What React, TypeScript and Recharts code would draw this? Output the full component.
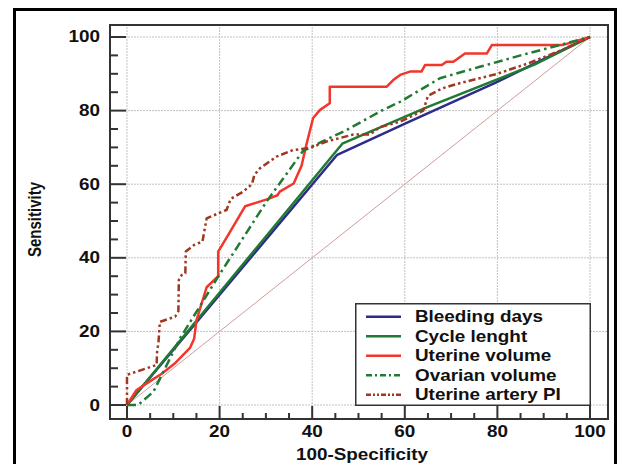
import React from 'react';
import { LineChart, Line, XAxis, YAxis, ReferenceLine, Legend } from 'recharts';

// ---------- data ----------
const bleedingDays = [
  { x: 0, y: 0 }, { x: 2, y: 3 }, { x: 45.4, y: 68 }, { x: 61, y: 77 },
  { x: 80, y: 87.8 }, { x: 89.2, y: 93.5 }, { x: 100, y: 100 },
];
const cycleLength = [
  { x: 0, y: 0 }, { x: 46.5, y: 71 }, { x: 65, y: 81 }, { x: 88, y: 92.5 }, { x: 100, y: 100 },
];
const uterineVolume = [
  { x: 0, y: 0 }, { x: 2, y: 4 }, { x: 5, y: 6.5 }, { x: 7.5, y: 8.5 }, { x: 10.5, y: 11.5 },
  { x: 13.6, y: 15.5 }, { x: 14.5, y: 18 }, { x: 15, y: 23 }, { x: 17.2, y: 32 }, { x: 19.7, y: 35 },
  { x: 19.7, y: 41.7 }, { x: 22, y: 46.5 }, { x: 25.5, y: 54 }, { x: 30.5, y: 56 }, { x: 32.5, y: 57 },
  { x: 33, y: 58 }, { x: 36, y: 60.2 }, { x: 37.7, y: 65 }, { x: 38.8, y: 71 }, { x: 40.2, y: 78 },
  { x: 41.7, y: 80.2 }, { x: 43.8, y: 82 }, { x: 43.8, y: 86.5 }, { x: 56.1, y: 86.5 }, { x: 57.5, y: 88.3 },
  { x: 59, y: 89.7 }, { x: 61.1, y: 90.6 }, { x: 63.6, y: 90.6 }, { x: 64.4, y: 92.4 }, { x: 68, y: 92.4 },
  { x: 69, y: 93.3 }, { x: 70.5, y: 93.3 }, { x: 73, y: 95.5 }, { x: 77.7, y: 95.5 }, { x: 78.8, y: 97.8 },
  { x: 94, y: 97.8 }, { x: 100, y: 100 },
];
const ovarianVolume = [
  { x: 0, y: 0 }, { x: 2.4, y: 0 }, { x: 5.7, y: 3.6 }, { x: 11.4, y: 18 }, { x: 20, y: 35.5 },
  { x: 30, y: 55 }, { x: 38, y: 69 }, { x: 42, y: 71.5 }, { x: 47.4, y: 74.7 }, { x: 55, y: 80 },
  { x: 59, y: 82.4 }, { x: 67.6, y: 88.8 }, { x: 76.2, y: 91.9 }, { x: 85, y: 95 }, { x: 100, y: 100 },
];
const uterineArteryPI = [
  { x: 0, y: 0 }, { x: 0, y: 8.2 }, { x: 6.4, y: 10.9 }, { x: 6.5, y: 14.5 }, { x: 6.8, y: 17 },
  { x: 7.1, y: 22.6 }, { x: 10.4, y: 24 }, { x: 11.1, y: 25.5 }, { x: 11.2, y: 34 }, { x: 11.8, y: 35.3 },
  { x: 12.6, y: 35.8 }, { x: 12.7, y: 41.7 }, { x: 14.5, y: 43.5 }, { x: 16.3, y: 44.4 }, { x: 17.2, y: 50.7 },
  { x: 20.5, y: 52.5 }, { x: 21.5, y: 53 }, { x: 22.4, y: 56 }, { x: 25.1, y: 58 }, { x: 27, y: 60 },
  { x: 27.5, y: 62.5 }, { x: 28.7, y: 64.3 }, { x: 32.3, y: 67.5 }, { x: 35.9, y: 69.3 }, { x: 39.5, y: 69.8 },
  { x: 43.1, y: 71.6 }, { x: 48.9, y: 73.5 }, { x: 52.5, y: 73.5 }, { x: 54.6, y: 75.5 }, { x: 59, y: 77 },
  { x: 64, y: 80 }, { x: 65, y: 84 }, { x: 68, y: 86 }, { x: 72, y: 87.5 }, { x: 80, y: 90 },
  { x: 87, y: 93 }, { x: 94, y: 96.5 }, { x: 100, y: 100 },
];
const diagonal = [{ x: 0, y: 0 }, { x: 100, y: 100 }];

const seriesNames = ['Bleeding days', 'Cycle lenght', 'Uterine volume', 'Ovarian volume', 'Uterine artery PI'];
const xTicks = [0, 5, 10, 15, 20, 25, 30, 35, 40, 45, 50, 55, 60, 65, 70, 75, 80, 85, 90, 95, 100];
const yTicks = [0, 5, 10, 15, 20, 25, 30, 35, 40, 45, 50, 55, 60, 65, 70, 75, 80, 85, 90, 95, 100];
const gridValues = [0, 20, 40, 60, 80, 100];
const xTitle = '100-Specificity';
const yTitle = 'Sensitivity';

// ---------- style ----------
const X_DOMAIN: [number, number] = [-3.67, 103.89];
const Y_DOMAIN: [number, number] = [-3.8, 103.26];
const FONT = "'Liberation Sans', Arial, Helvetica, sans-serif";
const SX = 1.18;

const SERIES = [
  { name: seriesNames[0], data: bleedingDays, color: '#2c2c8a', dash: undefined, legendDash: undefined },
  { name: seriesNames[1], data: cycleLength, color: '#217a33', dash: undefined, legendDash: undefined },
  { name: seriesNames[2], data: uterineVolume, color: '#f3362c', dash: undefined, legendDash: undefined },
  { name: seriesNames[3], data: ovarianVolume, color: '#217a33', dash: '9 4 2.5 4', legendDash: '6 3 2 3' },
  { name: seriesNames[4], data: uterineArteryPI, color: '#a0381f', dash: '7 3 2.5 3 2.5 3', legendDash: '5 2 2 2 2 2' },
];

function SText({ x, y, anchor = 'middle', size = 16, children, fill = '#111' }: any) {
  return (
    <text
      transform={`translate(${x},${y}) scale(${SX},1)`}
      textAnchor={anchor}
      dominantBaseline="central"
      fontFamily={FONT}
      fontWeight="bold"
      fontSize={size}
      fill={fill}
    >
      {children}
    </text>
  );
}

const YTick = (props: any) => {
  const { x, y, payload } = props;
  const v = payload.value;
  const major = v % 20 === 0;
  return (
    <g>
      <line x1={x} x2={x + (major ? 16 : 8)} y1={y} y2={y} stroke="#333" strokeWidth={2} />
      {major && <SText x={x - 10} y={y} anchor="end">{v}</SText>}
    </g>
  );
};

const XTick = (props: any) => {
  const { x, y, payload } = props;
  const v = payload.value;
  const major = v % 20 === 0;
  return (
    <g>
      <line x1={x} x2={x} y1={y} y2={y - (major ? 13 : 6)} stroke="#333" strokeWidth={2} />
      {major && <SText x={x} y={y + 13}>{v}</SText>}
    </g>
  );
};

const LegendBox = () => (
  <svg width={236} height={103} style={{ display: 'block' }}>
    <rect x={0.75} y={0.75} width={234.5} height={101.5} fill="#fff" stroke="#333" strokeWidth={1.5} />
    {SERIES.map((s, i) => {
      const cy = 13.7 + i * 19.5;
      return (
        <g key={s.name}>
          <line x1={11} x2={46} y1={cy} y2={cy} stroke={s.color} strokeWidth={2.5} strokeDasharray={s.legendDash} />
          <SText x={60} y={cy} anchor="start">{s.name}</SText>
        </g>
      );
    })}
  </svg>
);

export default function App() {
  return (
    <div style={{ position: 'absolute', left: 0, top: 0, width: 620, height: 464, background: '#fff', overflow: 'hidden' }}>
      <div style={{ position: 'absolute', left: 13, top: 8, width: 604, height: 480, border: '3px solid #000', boxSizing: 'border-box' }} />
      <div style={{ position: 'absolute', left: 0, top: 0 }}>
        <LineChart width={620} height={464} margin={{ top: 25, right: 12, bottom: 0, left: 0 }}>
          <XAxis
            type="number"
            dataKey="x"
            domain={X_DOMAIN}
            ticks={xTicks}
            interval={0}
            tickSize={0}
            tickMargin={0}
            axisLine={false}
            tickLine={false}
            height={45}
            tick={XTick}
            allowDataOverflow
          />
          <YAxis
            type="number"
            dataKey="y"
            domain={Y_DOMAIN}
            ticks={yTicks}
            interval={0}
            tickSize={0}
            tickMargin={0}
            axisLine={false}
            tickLine={false}
            width={110}
            tick={YTick}
            allowDataOverflow
          />
          {gridValues.map((v) => (
            <ReferenceLine key={'gx' + v} x={v} stroke="#c2c2c2" strokeWidth={1} strokeDasharray="2 1" />
          ))}
          {gridValues.map((v) => (
            <ReferenceLine key={'gy' + v} y={v} stroke="#c2c2c2" strokeWidth={1} strokeDasharray="2 1" />
          ))}
          <Line data={diagonal} dataKey="y" type="linear" stroke="#cf9c9c" strokeWidth={1} dot={false} isAnimationActive={false} legendType="none" />
          {SERIES.map((s) => (
            <Line
              key={s.name}
              data={s.data}
              dataKey="y"
              name={s.name}
              type="linear"
              stroke={s.color}
              strokeWidth={2.5}
              strokeDasharray={s.dash}
              strokeLinejoin="round"
              dot={false}
              isAnimationActive={false}
            />
          ))}
          <Legend
            layout="vertical"
            align="center"
            verticalAlign="middle"
            content={<LegendBox />}
            wrapperStyle={{ left: 355, top: 303, width: 236, height: 103 }}
          />
        </LineChart>
      </div>
      <div style={{ position: 'absolute', left: 109, top: 24, width: 500, height: 396, border: '2.5px solid #333', boxSizing: 'border-box', pointerEvents: 'none' }} />
      <svg width={620} height={464} style={{ position: 'absolute', left: 0, top: 0, pointerEvents: 'none' }}>
        <SText x={362} y={455}>{xTitle}</SText>
        <text
          transform="translate(35,219.5) scale(1.2,1) rotate(-90)"
          textAnchor="middle"
          dominantBaseline="central"
          fontFamily={FONT}
          fontWeight="bold"
          fontSize={15}
          fill="#111"
        >
          {yTitle}
        </text>
      </svg>
    </div>
  );
}
